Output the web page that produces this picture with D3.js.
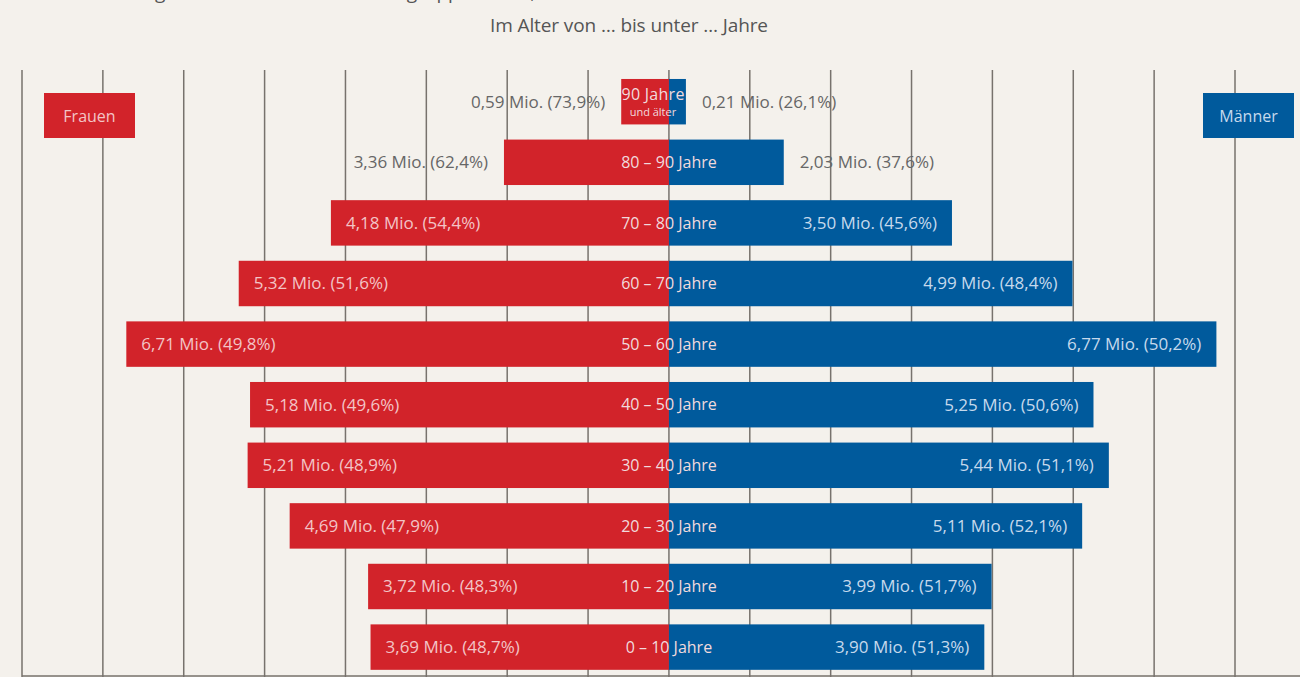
<!DOCTYPE html>
<html><head><meta charset="utf-8">
<script src="https://cdn.jsdelivr.net/npm/d3@7"></script>
<style>
html,body{margin:0;padding:0;background:#f4f1ec;overflow:hidden}
text{font-family:"Open Sans",sans-serif}
</style></head>
<body>
<svg id="c" width="1300" height="677"></svg>
<script>
const ageGroups = ["90 Jahre","80 – 90 Jahre","70 – 80 Jahre","60 – 70 Jahre","50 – 60 Jahre","40 – 50 Jahre","30 – 40 Jahre","20 – 30 Jahre","10 – 20 Jahre","0 – 10 Jahre"];
// values printed in the labels (Mio.)
const female = [0.59,3.36,4.18,5.32,6.71,5.18,5.21,4.69,3.72,3.69];
const femalePct = [73.9,62.4,54.4,51.6,49.8,49.6,48.9,47.9,48.3,48.7];
const male = [0.21,2.03,3.50,4.99,6.77,5.25,5.44,5.11,3.99,3.90];
const malePct = [26.1,37.6,45.6,48.4,50.2,50.6,51.1,52.1,51.7,51.3];
// bar lengths as drawn in the reference (the 80–90 bars are drawn shorter than their labels)
const femaleBar = [0.59,2.04,4.18,5.32,6.71,5.18,5.21,4.69,3.72,3.69];
const maleBar = [0.21,1.42,3.50,4.99,6.77,5.25,5.44,5.11,3.99,3.90];
const gridTicks = [-8,-7,-6,-5,-4,-3,-2,-1,0,1,2,3,4,5,6,7];
const legend = ["Frauen","Männer"];
const axisTitle = "Im Alter von … bis unter … Jahre";
const topTitle = "Bevölkerung in Deutschland nach Altersgruppen 2022, nach Geschlecht";

const RED = "#d2232a", BLUE = "#005a9c", GRID = "#77726d";
const svg = d3.select("#c");
const x = d3.scaleLinear().domain([-8,7]).range([22,1235]);
const y = d3.scaleBand().domain(ageGroups).range([71.4,677.4]).paddingInner(0.25).paddingOuter(0.125);
const fmt = v => d3.format(".2f")(v).replace(".", ",");
const fmtP = v => d3.format(".1f")(v).replace(".", ",");

// top title (cut off at the top edge, as in the reference)
svg.append("text").attr("x",370).attr("y",-1).attr("text-anchor","middle")
  .attr("font-size",19).attr("fill","#555").text(topTitle);
svg.append("text").attr("x",629).attr("y",32).attr("text-anchor","middle")
  .attr("font-size",19).attr("fill","#555").attr("textLength",278).text(axisTitle);

// grid
svg.append("g").selectAll("line").data(gridTicks).join("line")
  .attr("x1",d=>x(d)).attr("x2",d=>x(d)).attr("y1",70).attr("y2",677)
  .attr("stroke",GRID).attr("stroke-width",1.5);
svg.append("line").attr("x1",x(-8)).attr("x2",1300).attr("y1",676).attr("y2",676)
  .attr("stroke",GRID).attr("stroke-width",1.5);

const rows = ageGroups.map((a,i)=>({a,f:female[i],fp:femalePct[i],m:male[i],mp:malePct[i],fb:femaleBar[i],mb:maleBar[i],i}));
const g = svg.append("g");
g.selectAll("rect.f").data(rows).join("rect").attr("class","f")
  .attr("x",d=>x(-d.fb)).attr("width",d=>x(0)-x(-d.fb))
  .attr("y",d=>y(d.a)).attr("height",y.bandwidth()).attr("fill",RED);
g.selectAll("rect.m").data(rows).join("rect").attr("class","m")
  .attr("x",x(0)).attr("width",d=>x(d.mb)-x(0))
  .attr("y",d=>y(d.a)).attr("height",y.bandwidth()).attr("fill",BLUE);

const fs = 17;
const inside = v => v > 3;
g.selectAll("text.fl").data(rows).join("text").attr("class","fl")
  .attr("x",d=> inside(d.fb) ? x(-d.fb)+15 : x(-d.fb)-16)
  .attr("text-anchor",d=> inside(d.fb) ? "start":"end")
  .attr("y",d=>y(d.a)+y.bandwidth()/2).attr("dy","0.35em")
  .attr("font-size",fs).attr("fill",d=> inside(d.fb) ? "#f3c4c6" : "#666")
  .text(d=>`${fmt(d.f)} Mio. (${fmtP(d.fp)}%)`);
g.selectAll("text.ml").data(rows).join("text").attr("class","ml")
  .attr("x",d=> inside(d.mb) ? x(d.mb)-15 : x(d.mb)+16)
  .attr("text-anchor",d=> inside(d.mb) ? "end":"start")
  .attr("y",d=>y(d.a)+y.bandwidth()/2).attr("dy","0.35em")
  .attr("font-size",fs).attr("fill",d=> inside(d.mb) ? "#c6d9ec" : "#666")
  .text(d=>`${fmt(d.m)} Mio. (${fmtP(d.mp)}%)`);

// center age labels
g.selectAll("text.cl").data(rows.slice(1)).join("text").attr("class","cl")
  .attr("x",x(0)).attr("text-anchor","middle")
  .attr("y",d=>y(d.a)+y.bandwidth()/2).attr("dy","0.35em")
  .attr("font-size",16).attr("fill","#f1dadd").text(d=>d.a);
const firstRow = rows[0];
g.append("text").attr("x",x(0)-16).attr("y",y(firstRow.a)+21).attr("text-anchor","middle")
  .attr("font-size",16).attr("fill","#f1dadd").attr("textLength",63).text(firstRow.a);
g.append("text").attr("x",x(0)-16).attr("y",y(firstRow.a)+37).attr("text-anchor","middle")
  .attr("font-size",11).attr("fill","#f1dadd").text("und älter");

// legend
const lg = [{t:legend[0],x0:44,c:RED,tc:"#f3c4c6"},{t:legend[1],x0:1203,c:BLUE,tc:"#c6d9ec"}];
const L = svg.append("g").selectAll("g").data(lg).join("g");
L.append("rect").attr("x",d=>d.x0).attr("y",93).attr("width",91).attr("height",45).attr("fill",d=>d.c);
L.append("text").attr("x",d=>d.x0+45.5).attr("y",116).attr("dy","0.35em").attr("text-anchor","middle")
  .attr("font-size",16).attr("fill",d=>d.tc).text(d=>d.t);
</script>
</body></html>
